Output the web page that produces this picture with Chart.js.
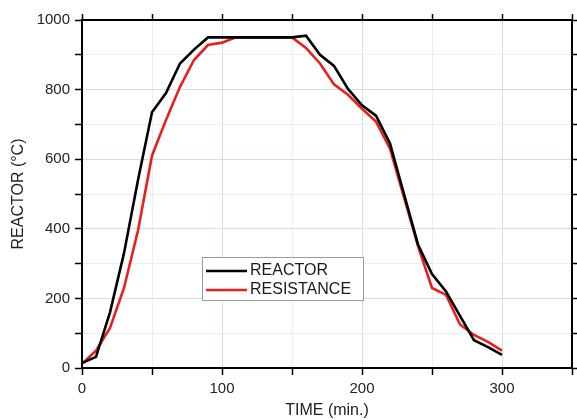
<!DOCTYPE html>
<html lang="en">
<head>
    <meta charset="UTF-8">
    <title>Reactor temperature</title>
    <style>
        body{
            margin: 0;
            background: #fff;
        }
        div{
            width: 577px;
            height: 420px;
        }
    </style>
</head>
<body>
    <div>
        <canvas id="grafico" width="577" height="420"></canvas>
    </div>

    <script src="https://cdn.jsdelivr.net/npm/chart.js"></script>

<script>
  // values, one point every 10 min
  const tempos = [0,10,20,30,40,50,60,70,80,90,100,110,120,130,140,150,160,170,180,190,200,210,220,230,240,250,260,270,280,290,300];
  const reator = [14,32,160,330,540,735,790,875,915,950,950,950,950,950,950,950,955,900,868,802,755,725,645,500,355,270,220,150,80,60,38];
  const resistencia = [12,50,115,230,395,610,713,808,885,928,935,950,950,950,950,950,920,875,815,785,745,708,630,490,350,230,210,125,95,75,50];
  const nomes = ["REACTOR", "RESISTANCE"];
  const cores = ["#000000", "#e8201c"];

  const fonte = "'Liberation Sans', Arial, sans-serif";

  function pontos(valores){
    return tempos.map((t, i) => ({x: t, y: valores[i]}));
  }

  function corGrade(ctx){
    if (!ctx.tick) return '#e6eeea';
    return ctx.tick.value % 100 === 0 && ctx.scale.axis === 'x' || ctx.tick.value % 200 === 0 && ctx.scale.axis === 'y'
      ? '#cfe4d5' : '#eaf0ed';
  }

  // legenda desenhada dentro da área do gráfico, com caixa
  const legendaCaixa = {
    id: 'legendaCaixa',
    afterDatasetsDraw(chart){
      const c = chart.ctx;
      const x0 = 202, y0 = 257, w = 161, h = 43;
      c.save();
      c.fillStyle = '#fff';
      c.fillRect(x0, y0, w, h);
      c.strokeStyle = '#9a9a9a';
      c.lineWidth = 1;
      c.strokeRect(x0 + 0.5, y0 + 0.5, w, h);
      c.font = "16px " + fonte;
      c.textBaseline = 'middle';
      chart.data.datasets.forEach((ds, i) => {
        const yy = y0 + 14 + i * 19;
        c.strokeStyle = ds.borderColor;
        c.lineWidth = 2.5;
        c.beginPath();
        c.moveTo(x0 + 4, yy);
        c.lineTo(x0 + 45, yy);
        c.stroke();
        c.fillStyle = '#1a1a1a';
        c.fillText(ds.label, x0 + 48, yy);
      });
      c.restore();
    }
  };

  const ctx = document.getElementById('grafico');

  let grafico = new Chart(ctx, {
    type: 'line',
    data: {
      datasets: [
        { label: nomes[0], data: pontos(reator), borderColor: cores[0], borderWidth: 2.6, pointRadius: 0, tension: 0 },
        { label: nomes[1], data: pontos(resistencia), borderColor: cores[1], borderWidth: 2.6, pointRadius: 0, tension: 0 }
      ]
    },
    options: {
      responsive: false,
      animation: false,
      layout: { padding: 0 },
      plugins: {
        legend: { display: false },
        tooltip: { enabled: false }
      },
      scales: {
        x: {
          type: 'linear',
          position: 'bottom',
          min: 0, max: 350,
          afterFit(s){ s.height = 52; },
          ticks: {
            stepSize: 50, autoSkip: false, maxRotation: 0, padding: 5,
            color: '#222', font: { family: fonte, size: 15 },
            callback: v => v % 100 === 0 ? v : ''
          },
          grid: { color: corGrade, lineWidth: 1, tickLength: 7, tickColor: '#000', tickWidth: 1.5 },
          border: { color: '#000', width: 2 },
          title: { display: true, text: 'TIME (min.)', color: '#222', font: { family: fonte, size: 16, lineHeight: 1 }, padding: { top: 0, bottom: 1 } }
        },
        y: {
          type: 'linear',
          position: 'left',
          min: 0, max: 1000,
          afterFit(s){ s.width = 82; },
          ticks: {
            stepSize: 100, autoSkip: false, padding: 5,
            color: '#222', font: { family: fonte, size: 15 },
            callback: v => v % 200 === 0 ? v : ''
          },
          grid: { color: corGrade, lineWidth: 1, tickLength: 7, tickColor: '#000', tickWidth: 1.5 },
          border: { color: '#000', width: 2 },
          title: { display: true, text: 'REACTOR (°C)', color: '#222', font: { family: fonte, size: 16 }, padding: { top: 9, bottom: 0 } }
        },
        xTopo: {
          type: 'linear',
          position: 'top',
          min: 0, max: 350,
          afterFit(s){ s.height = 20; },
          ticks: { stepSize: 50, autoSkip: false, maxRotation: 0, callback: () => '' },
          grid: { drawOnChartArea: false, tickLength: 6, tickColor: '#000', tickWidth: 1.5 },
          border: { color: '#000', width: 2 }
        },
        yDireita: {
          type: 'linear',
          position: 'right',
          min: 0, max: 1000,
          afterFit(s){ s.width = 5; },
          ticks: { stepSize: 100, autoSkip: false, callback: () => '' },
          grid: { drawOnChartArea: false, tickLength: 6, tickColor: '#000', tickWidth: 1.5 },
          border: { color: '#000', width: 2 }
        }
      }
    },
    plugins: [legendaCaixa]
  });
</script>
</body>
</html>
